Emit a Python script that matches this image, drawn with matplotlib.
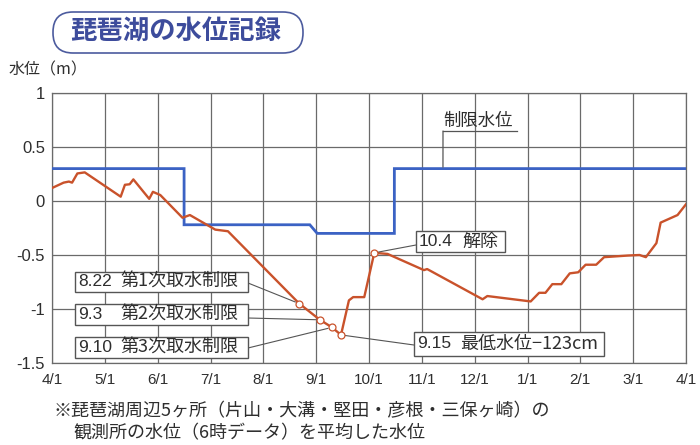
import matplotlib
matplotlib.use("Agg")
import matplotlib.pyplot as plt
from matplotlib.patches import FancyBboxPatch, Rectangle
from matplotlib.transforms import IdentityTransform
from matplotlib.lines import Line2D

# ---------------- data ----------------
month_labels = ["4/1", "5/1", "6/1", "7/1", "8/1", "9/1", "10/1",
                "11/1", "12/1", "1/1", "2/1", "3/1", "4/1"]
y_ticks = [1, 0.5, 0, -0.5, -1, -1.5]
y_tick_labels = ["1", "0.5", "0", "-0.5", "-1", "-1.5"]

# lake level (months since 4/1, metres)
level_x = [0.00, 0.22, 0.32, 0.38, 0.48, 0.62, 1.30, 1.38, 1.47, 1.54,
           1.84, 1.91, 2.05, 2.47, 2.61, 3.09, 3.33, 4.68, 5.07, 5.30,
           5.47, 5.62, 5.70, 5.91, 6.10, 6.35, 7.04, 7.10, 8.15, 8.24,
           9.06, 9.22, 9.34, 9.47, 9.64, 9.80, 9.96, 10.10, 10.30, 10.45,
           10.90, 11.12, 11.24, 11.44, 11.52, 11.84, 12.00]
level_y = [0.12, 0.17, 0.18, 0.17, 0.255, 0.265, 0.04, 0.15, 0.155, 0.20,
           0.02, 0.085, 0.055, -0.155, -0.13, -0.265, -0.28, -0.95, -1.10, -1.17,
           -1.24, -0.92, -0.89, -0.89, -0.48, -0.49, -0.64, -0.63, -0.91, -0.88,
           -0.93, -0.85, -0.85, -0.77, -0.77, -0.67, -0.66, -0.59, -0.59, -0.52,
           -0.505, -0.50, -0.52, -0.39, -0.20, -0.13, -0.03]

# regulation (limit) level
limit_x = [0.0, 2.5, 2.5, 4.88, 5.02, 6.48, 6.48, 12.0]
limit_y = [0.3, 0.3, -0.22, -0.22, -0.30, -0.30, 0.30, 0.30]

# events
event_x = [4.68, 5.07, 5.30, 5.47, 6.10]
event_y = [-0.95, -1.10, -1.17, -1.24, -0.48]
event_dates = ["8.22", "9.3", "9.10", "9.15", "10.4"]
event_texts = ["第1次取水制限", "第2次取水制限", "第3次取水制限", "最低水位−123cm", "解除"]

title = "琵琶湖の水位記録"
ylabel = "水位（m）"
limit_label = "制限水位"
caption1 = "※琵琶湖周辺5ヶ所（片山・大溝・堅田・彦根・三保ヶ崎）の"
caption2 = "観測所の水位（6時データ）を平均した水位"

# ---------------- style ----------------
W, H = 700, 445
JP = ["Noto Sans CJK JP", "DejaVu Sans"]
NUM = ["Liberation Sans", "Noto Sans CJK JP", "DejaVu Sans"]
RED = "#c9522b"
BLUE = "#3b62c4"
GRID = "#6a6a6a"
TXT = "#2e2e2e"

plt.rcParams["font.family"] = NUM

fig = plt.figure(figsize=(W / 100, H / 100), dpi=100)
fig.patch.set_facecolor("white")


def ff(px, py):
    """figure pixel (from top-left) -> figure fraction"""
    return px / W, 1 - py / H


ax_l, ax_r, ax_t, ax_b = 52, 686, 93, 363
ax = fig.add_axes([ax_l / W, 1 - ax_b / H, (ax_r - ax_l) / W, (ax_b - ax_t) / H])
ax.set_xlim(0, 12)
ax.set_ylim(-1.5, 1)
ax.set_xticks(range(len(month_labels)))
ax.set_xticklabels(month_labels, fontsize=11, color=TXT)
ax.set_yticks(y_ticks)
ax.set_yticklabels(y_tick_labels, fontsize=12, color=TXT)
ax.tick_params(axis="x", length=0, pad=7)
ax.tick_params(axis="y", length=0, pad=5)
ax.grid(True, color=GRID, lw=0.9)
ax.set_axisbelow(True)
for s in ax.spines.values():
    s.set_color(GRID)
    s.set_linewidth(0.9)

ax.plot(limit_x, limit_y, color=BLUE, lw=2.0, zorder=3, solid_joinstyle="miter")
ax.plot(level_x, level_y, color=RED, lw=1.7, zorder=4)
ax.plot(event_x, event_y, "o", ms=5, mfc="white", mec=RED, mew=0.9, zorder=6)

# ---------------- annotation boxes ----------------
# (box x0, y0, x1, y1 in px from top-left, date x, text x, leader start)
boxes = [
    (75, 272, 248, 292, 78, 120, (248, 283)),
    (75, 304, 248, 325, 78, 120, (248, 318)),
    (75, 337, 248, 358, 78, 120, (248, 348)),
    (414, 332, 604, 356, 417, 460, (414, 345)),
    (416, 231, 505, 252, 419, 462, (416, 245)),
]
for i, (x0, y0, x1, y1, dx, tx, lead) in enumerate(boxes):
    fx0, fy1 = ff(x0, y1)
    fx1, fy0 = ff(x1, y0)
    fig.add_artist(Rectangle((fx0, fy1), fx1 - fx0, fy0 - fy1, transform=fig.transFigure,
                             facecolor="white", edgecolor="#555555", lw=1.0, zorder=10))
    cy = (y0 + y1) / 2
    fig.text(*ff(dx, cy), event_dates[i], fontsize=12.5, color=TXT, family=NUM,
             ha="left", va="center", zorder=11)
    fig.text(*ff(tx, cy), event_texts[i], fontsize=13, color=TXT, family=JP,
             ha="left", va="center", zorder=11)
    ax.annotate("", xy=(event_x[i], event_y[i]), xycoords="data",
                xytext=ff(*lead), textcoords="figure fraction",
                arrowprops=dict(arrowstyle="-", color="#555555", lw=0.8,
                                shrinkA=0, shrinkB=3),
                annotation_clip=False, zorder=5)

# limit label with underline and leader
fig.text(*ff(443, 121), limit_label, fontsize=12.5, color=TXT, family=JP,
         ha="left", va="center")
fig.add_artist(Line2D([443 / W, 517 / W], [1 - 131 / H, 1 - 131 / H],
                      color="#555555", lw=0.9, transform=fig.transFigure))
ax.annotate("", xy=(7.4, limit_y[-1]), xycoords="data",
            xytext=ff(443, 131), textcoords="figure fraction",
            arrowprops=dict(arrowstyle="-", color="#555555", lw=0.9, shrinkA=0, shrinkB=1),
            annotation_clip=False)

# title pill
fig.add_artist(FancyBboxPatch((53, H - 53), 250, 41,
                              boxstyle="round,pad=0,rounding_size=20",
                              transform=IdentityTransform(),
                              facecolor="none", edgecolor="#4c5b9e", lw=1.2))
fig.text(*ff(176, 32), title, fontsize=19, fontweight="bold", color="#3d4c9c",
         family=JP, ha="center", va="center")

# y label
fig.text(*ff(9, 70), ylabel, fontsize=11.5, color=TXT, family=JP,
         ha="left", va="center")

# caption
fig.text(*ff(53, 411), caption1, fontsize=13, color=TXT, family=JP,
         ha="left", va="center")
fig.text(*ff(73, 433), caption2, fontsize=13, color=TXT, family=JP,
         ha="left", va="center")

fig.savefig("out.png", dpi=100, facecolor="white")
